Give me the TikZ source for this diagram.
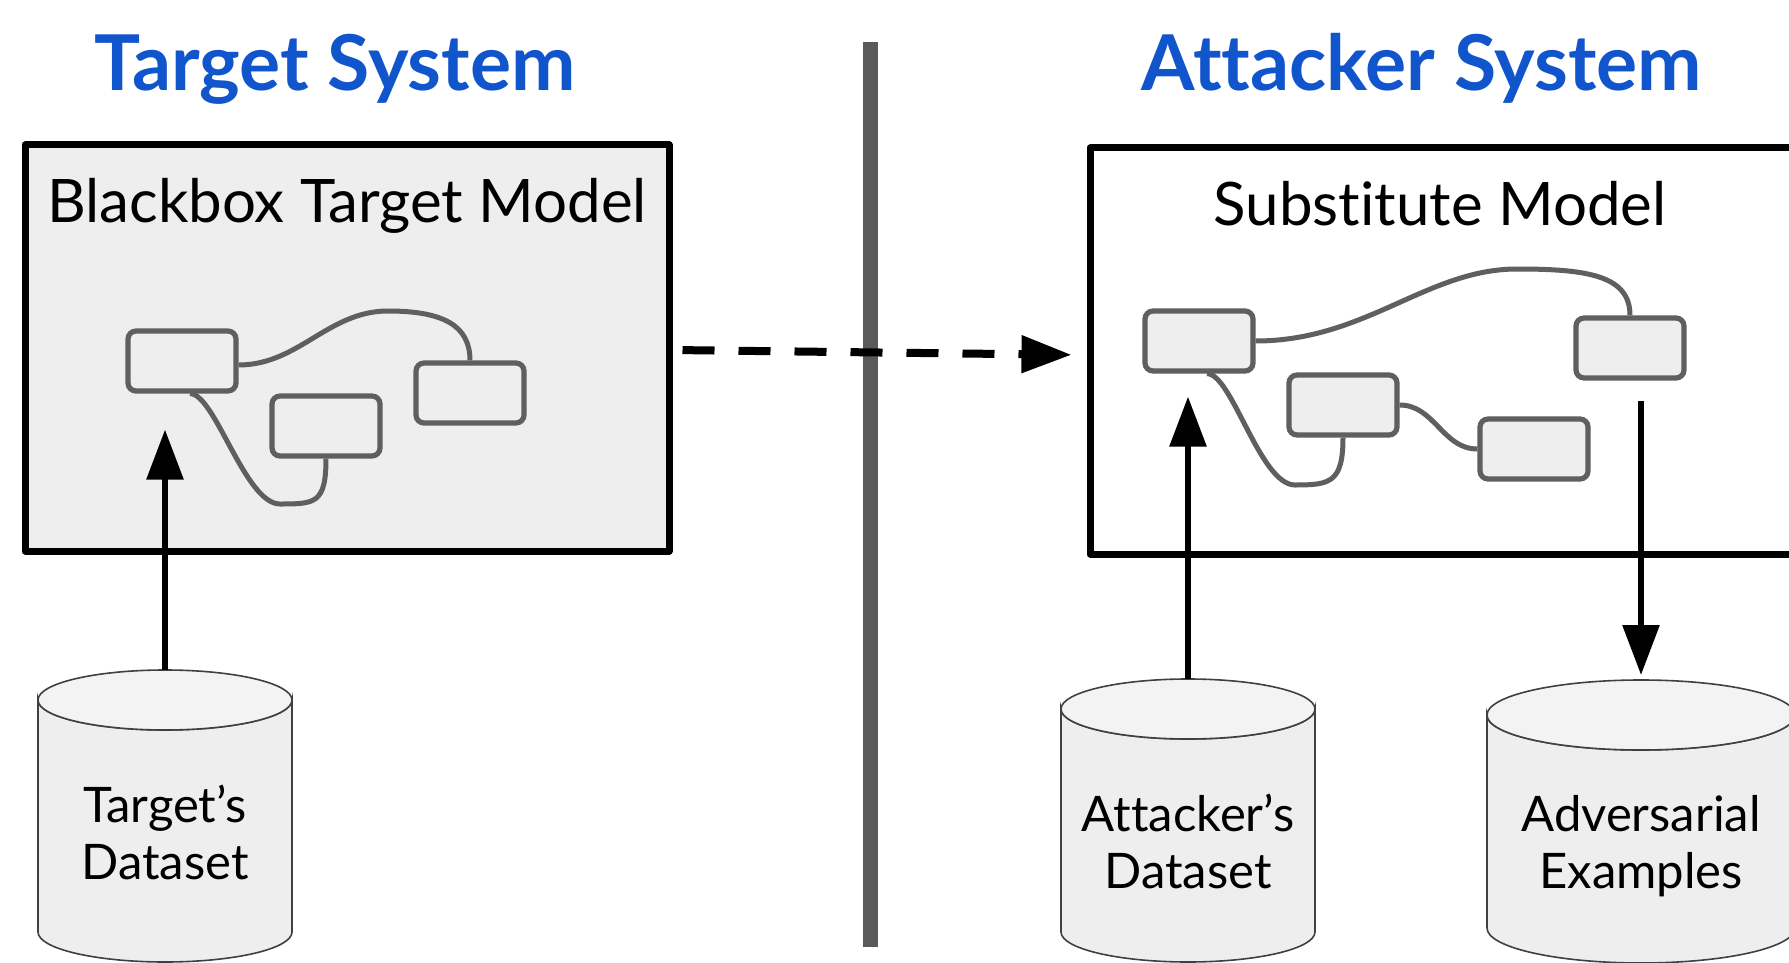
\documentclass[tikz,border=0pt]{standalone}
\usepackage{fontspec}
\setmainfont{Lato}[Ligatures=NoCommon]
\usetikzlibrary{arrows.meta}
\definecolor{ttlblue}{HTML}{1155CC}
\definecolor{boxgray}{HTML}{EEEEEE}
\definecolor{capgray}{HTML}{F3F3F3}
\definecolor{edgegray}{HTML}{5F5F5F}
\definecolor{bargray}{HTML}{5A5A5A}
\definecolor{cylline}{HTML}{404040}
\tikzset{
  systtl/.style={text=ttlblue, font=\fontsize{38.5}{46}\selectfont\bfseries, anchor=base},
  modelbox/.style={draw=black, line width=3.5pt, line join=round, minimum height=203pt, inner sep=0pt},
  modelttl/.style={font=\fontsize{30}{36}\selectfont, anchor=base},
  unit/.style={draw=edgegray, fill=boxgray, line width=2.6pt, rounded corners=4pt, minimum width=54pt, minimum height=30pt, inner sep=0pt},
  wire/.style={draw=edgegray, line width=2.5pt},
  arr/.style={line width=3pt, -{Triangle[length=25pt,width=18pt]}},
  dbtext/.style={font=\fontsize{24.5}{28.5}\selectfont, align=center, inner sep=0pt},
}
% cylinder: centre x, top y, x radius, y radius, bottom y
\newcommand{\dbcyl}[5]{%
  \path[draw=cylline, line width=0.8pt, fill=boxgray] (#1-#3,#2) -- (#1-#3,#5)
    arc[start angle=180, end angle=0, x radius=#3, y radius=#4] -- (#1+#3,#2)
    arc[start angle=0, end angle=180, x radius=#3, y radius=#4] -- cycle;
  \path[draw=cylline, line width=0.8pt, fill=capgray] (#1,#2) ellipse[x radius=#3, y radius=#4];
}
\begin{document}
\begin{tikzpicture}[x=0.5pt, y=-0.5pt]
  \clip (0,0) rectangle (1789,963);

  % titles and divider
  \node[systtl] (tsys) at (335,91) {Target System};
  \node[systtl] (asys) at (1422,91) {Attacker System};
  \draw[bargray, line width=7.5pt] (870,42) -- (870,947);

  % model boxes
  \node[modelbox, fill=boxgray, minimum width=322pt] (bbox) at (347,348) {};
  \node[modelbox, fill=white, minimum width=380pt] (sbox) at (1470,351) {};
  \node[modelttl] (bttl) at (347,222) {Blackbox Target Model};
  \node[modelttl] (sttl) at (1440,226) {Substitute Model};

  % blackbox units
  \node[unit] (tn1) at (182,361) {};
  \node[unit] (tn2) at (326,426) {};
  \node[unit] (tn3) at (470,393) {};
  \draw[wire] ([yshift=-2pt]tn1.east) .. controls +(60,0) and +(-60,0) .. (388,311)
    .. controls +(55,0) and +(0,-35) .. (tn3.north);
  \draw[wire] ([xshift=4pt]tn1.south) .. controls +(25,0) and +(-35,0) .. (280,504)
    .. controls +(35,0) and +(0,45) .. (tn2.south);

  % substitute units
  \node[unit] (sn1) at (1199,341) {};
  \node[unit] (sn2) at (1343,405) {};
  \node[unit] (sn3) at (1534,449) {};
  \node[unit] (sn4) at (1630,348) {};
  \draw[wire] (sn1.east) .. controls +(110,0) and +(-90,0) .. (1517,269)
    .. controls +(70,0) and +(0,-40) .. (sn4.north);
  \draw[wire] ([xshift=4pt]sn1.south) .. controls +(25,0) and +(-35,0) .. (1295,485)
    .. controls +(35,0) and +(0,45) .. (sn2.south);
  \draw[wire] (sn2.east) to[out=0, in=180] (sn3.west);

  % datasets
  \dbcyl{165}{700}{127}{30}{932}
  \dbcyl{1188}{709}{127}{30}{932}
  \dbcyl{1641}{715}{154}{35}{928}
  \coordinate (tdtop) at (165,670);
  \coordinate (adtop) at (1188,679);
  \coordinate (avtop) at (1641,680);
  \node[dbtext] (tds) at (165,832) {Target’s\\Dataset};
  \node[dbtext] (ads) at (1188,841) {Attacker’s\\Dataset};
  \node[dbtext] (adv) at (1641,846) {Adversarial\\Examples};

  % arrows
  \draw[arr, dash pattern=on 16pt off 12pt, line width=4pt, shorten <=5pt, shorten >=7.5pt] ([yshift=-1pt]bbox.east) -- ([yshift=-2pt]sbox.west);
  \draw[arr, shorten >=18pt] (tdtop) -- (tdtop |- tn1.south);
  \draw[arr, shorten >=11.5pt] (adtop) -- (adtop |- sn1.south);
  \draw[arr, shorten <=10pt, shorten >=2.5pt] (avtop |- sn4.south) -- (avtop);
\end{tikzpicture}
\end{document}
